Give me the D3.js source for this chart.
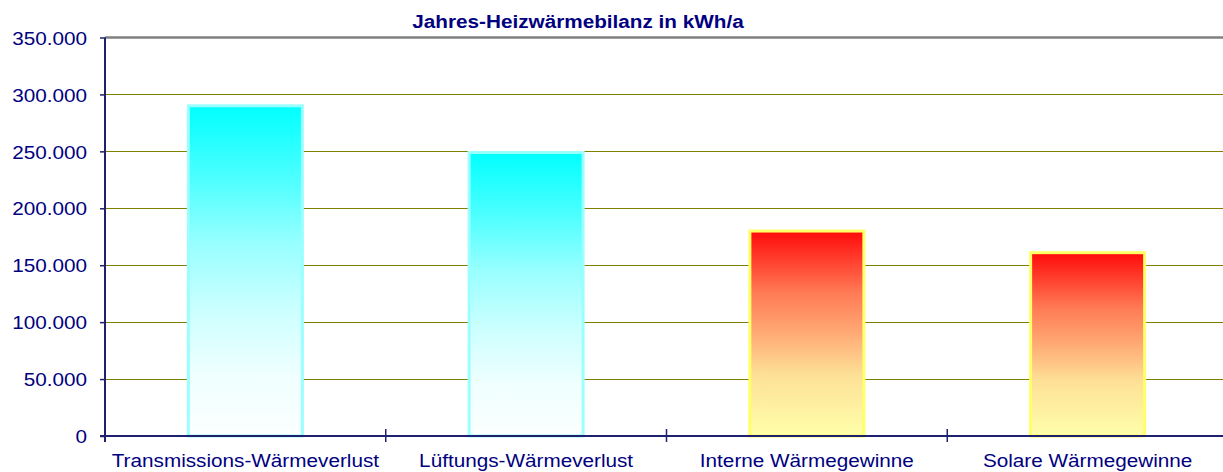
<!DOCTYPE html>
<html>
<head>
<meta charset="utf-8">
<script src="https://cdn.jsdelivr.net/npm/d3@7"></script>
<style>
  body { margin: 0; background: #fff; }
  svg { display: block; font-family: "Liberation Sans", Arial, sans-serif; }
</style>
</head>
<body>
<svg width="1223" height="472"></svg>
<script>
// data
var categories = ["Transmissions-Wärmeverlust", "Lüftungs-Wärmeverlust", "Interne Wärmegewinne", "Solare Wärmegewinne"];
var values = [290000, 249000, 180000, 161000];
var kinds = ["verlust", "verlust", "gewinn", "gewinn"];
var yTicks = [0, 50000, 100000, 150000, 200000, 250000, 300000, 350000];
var title = "Jahres-Heizwärmebilanz in kWh/a";

var svg = d3.select("svg");
var stretch = 1.12; // text in the picture is a bit wider than normal

// note: "top" is taken by window.top, so use other names
var plotLeft = 105, plotTop = 37.5, plotRight = 1228, plotBottom = 436;

var x = d3.scaleBand(categories, [plotLeft, plotRight]).paddingInner(0.594).paddingOuter(0.297);
var y = d3.scaleLinear([0, 350000], [plotBottom, plotTop]);

var de = d3.formatLocale({ decimal: ",", thousands: ".", grouping: [3], currency: ["", " €"] });
var fmt = de.format(",d");

// gradients
var defs = svg.append("defs");
var cyan = defs.append("linearGradient").attr("id", "g-verlust").attr("x1", 0).attr("y1", 0).attr("x2", 0).attr("y2", 1);
[[0, "#00ffff"], [0.22, "#4dffff"], [0.42, "#99ffff"], [0.62, "#ccffff"], [0.82, "#f0ffff"], [1, "#fbffff"]]
  .forEach(function (s) { cyan.append("stop").attr("offset", s[0]).attr("stop-color", s[1]); });

var warm = defs.append("linearGradient").attr("id", "g-gewinn").attr("x1", 0).attr("y1", 0).attr("x2", 0).attr("y2", 1);
[[0, "#ff0a0a"], [0.3, "#ff7a55"], [0.5, "#ffaa75"], [0.7, "#fde096"], [1, "#ffffaa"]]
  .forEach(function (s) { warm.append("stop").attr("offset", s[0]).attr("stop-color", s[1]); });

var strokeColor = d3.scaleOrdinal(["verlust", "gewinn"], ["#99ffff", "#ffff66"]);

// gridlines
svg.append("g")
  .selectAll("line")
  .data(yTicks.filter(function (d) { return d > 0 && d < 350000; }))
  .join("line")
  .attr("x1", plotLeft).attr("x2", plotRight)
  .attr("y1", function (d) { return Math.round(y(d)) + 0.5; })
  .attr("y2", function (d) { return Math.round(y(d)) + 0.5; })
  .attr("stroke", "#808000")
  .attr("stroke-width", 1);

// top border
svg.append("line")
  .attr("x1", plotLeft).attr("x2", plotRight)
  .attr("y1", y(350000)).attr("y2", y(350000))
  .attr("stroke", "#808080")
  .attr("stroke-width", 2.5);

// bars
svg.append("g")
  .selectAll("rect")
  .data(values)
  .join("rect")
  .attr("x", function (d, i) { return x(categories[i]); })
  .attr("width", x.bandwidth())
  .attr("y", function (d) { return y(d); })
  .attr("height", function (d) { return y(0) - y(d); })
  .attr("fill", function (d, i) { return "url(#g-" + kinds[i] + ")"; })
  .attr("stroke", function (d, i) { return strokeColor(kinds[i]); })
  .attr("stroke-width", 3);

// y axis
var yAxis = svg.append("g")
  .attr("transform", "translate(" + plotLeft + ",0)")
  .call(d3.axisLeft(y).tickValues(yTicks).tickFormat(fmt).tickSizeInner(5).tickSizeOuter(0).tickPadding(11));
yAxis.select(".domain").remove();
yAxis.selectAll(".tick line").attr("stroke", "#202070").attr("stroke-width", 1.5);
yAxis.selectAll("text")
  .attr("fill", "#000080")
  .attr("font-size", 18.5)
  .attr("font-family", "Liberation Sans, Arial, sans-serif")
  .attr("dy", "0.36em")
  .attr("transform", "scale(" + stretch + ",1)");

svg.append("line")
  .attr("x1", plotLeft).attr("x2", plotLeft)
  .attr("y1", plotTop).attr("y2", plotBottom + 6)
  .attr("stroke", "#202070")
  .attr("stroke-width", 2);

// x axis
svg.append("line")
  .attr("x1", plotLeft - 5).attr("x2", plotRight)
  .attr("y1", plotBottom).attr("y2", plotBottom)
  .attr("stroke", "#202070")
  .attr("stroke-width", 2);

var gap = (x.step() - x.bandwidth()) / 2;
svg.append("g")
  .selectAll("line")
  .data(categories.slice(1))
  .join("line")
  .attr("x1", function (d) { return x(d) - gap; })
  .attr("x2", function (d) { return x(d) - gap; })
  .attr("y1", plotBottom - 7).attr("y2", plotBottom + 6)
  .attr("stroke", "#202070")
  .attr("stroke-width", 1.5);

svg.append("g")
  .selectAll("text")
  .data(categories)
  .join("text")
  .attr("transform", function (d) {
    return "translate(" + (x(d) + x.bandwidth() / 2) + "," + (plotBottom + 30.5) + ") scale(" + stretch + ",1)";
  })
  .attr("text-anchor", "middle")
  .attr("fill", "#000080")
  .attr("font-size", 18.5)
  .text(function (d) { return d; });

// title
svg.append("text")
  .attr("transform", "translate(578,27.5) scale(" + stretch + ",1)")
  .attr("text-anchor", "middle")
  .attr("fill", "#000080")
  .attr("font-size", 18.5)
  .attr("font-weight", "bold")
  .text(title);
</script>
</body>
</html>
